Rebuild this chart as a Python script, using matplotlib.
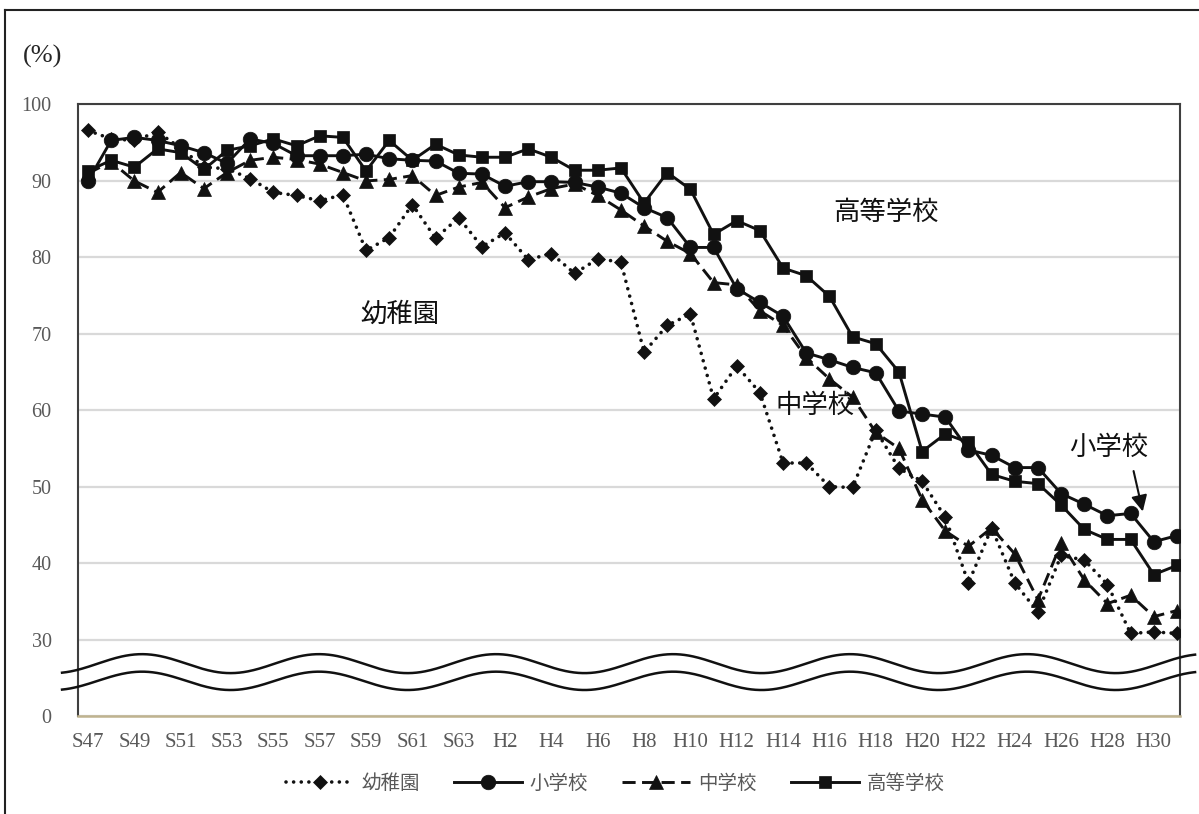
import numpy as np
import matplotlib
matplotlib.use("Agg")
import matplotlib.pyplot as plt
from matplotlib.lines import Line2D

# ---------------- data ----------------
categories = ["S47", "S48", "S49", "S50", "S51", "S52", "S53", "S54", "S55", "S56",
              "S57", "S58", "S59", "S60", "S61", "S62", "S63", "H1", "H2", "H3",
              "H4", "H5", "H6", "H7", "H8", "H9", "H10", "H11", "H12", "H13",
              "H14", "H15", "H16", "H17", "H18", "H19", "H20", "H21", "H22", "H23",
              "H24", "H25", "H26", "H27", "H28", "H29", "H30", "H31"]

kindergarten = [96.6, 95.5, 95.3, 96.4, 94.3, 91.8, 91.6, 90.3, 88.5, 88.1,
                87.4, 88.2, 80.9, 82.6, 86.9, 82.5, 85.2, 81.4, 83.2, 79.7,
                80.5, 77.9, 79.8, 79.4, 67.6, 71.1, 72.6, 61.5, 65.8, 62.3,
                53.1, 53.1, 50.0, 49.9, 57.4, 52.4, 50.7, 46.0, 37.4, 44.6,
                37.4, 33.6, 41.0, 40.4, 37.2, 30.8, 31.0, 30.8]

elementary = [90.0, 95.3, 95.7, 95.3, 94.6, 93.7, 92.3, 95.5, 94.9, 93.3,
              93.3, 93.3, 93.5, 92.9, 92.7, 92.6, 91.0, 90.9, 89.3, 89.9,
              89.9, 89.8, 89.2, 88.4, 86.5, 85.2, 81.3, 81.3, 75.9, 74.1,
              72.3, 67.5, 66.6, 65.6, 64.9, 59.9, 59.5, 59.1, 54.8, 54.1,
              52.5, 52.5, 49.1, 47.7, 46.2, 46.5, 42.8, 43.6]

junior_high = [91.0, 92.5, 90.0, 88.5, 91.1, 89.0, 91.1, 92.7, 93.1, 92.8,
               92.2, 91.1, 90.0, 90.2, 90.7, 88.1, 89.2, 89.8, 86.5, 87.9,
               89.0, 89.6, 88.1, 86.2, 84.1, 82.1, 80.5, 76.7, 76.4, 73.0,
               71.1, 66.9, 64.1, 61.7, 57.1, 55.0, 48.3, 44.2, 42.2, 44.6,
               41.2, 35.2, 42.6, 37.8, 34.7, 35.8, 33.0, 33.8]

high_school = [91.3, 92.7, 91.8, 94.2, 93.7, 91.5, 94.0, 94.6, 95.5, 94.6,
               95.9, 95.7, 91.3, 95.3, 92.7, 94.8, 93.4, 93.1, 93.1, 94.2,
               93.1, 91.4, 91.4, 91.7, 87.1, 91.1, 88.9, 83.0, 84.8, 83.5,
               78.6, 77.6, 74.9, 69.6, 68.7, 65.0, 54.6, 56.9, 55.8, 51.6,
               50.7, 50.4, 47.6, 44.4, 43.1, 43.1, 38.5, 39.7]

series_names = ["幼稚園", "小学校", "中学校", "高等学校"]

# y axis: broken axis, the bottom (20) is shown as "0"
ytick_values = [20, 30, 40, 50, 60, 70, 80, 90, 100]
ytick_labels = ["0", "30", "40", "50", "60", "70", "80", "90", "100"]

# ---------------- style ----------------
W, H = 1199, 814
fig = plt.figure(figsize=(W / 100, H / 100), dpi=100)
ax = fig.add_axes([78 / W, 1 - 716 / H, (1180 - 78) / W, (716 - 104.5) / H])

ink = "#111111"
tick_color = "#595959"
serif = ["Liberation Serif", "DejaVu Serif"]
cjk = ["Noto Sans CJK JP", "DejaVu Sans"]

x = np.arange(len(categories))

styles = [
    dict(linestyle=(0, (0.01, 2.1)), dash_capstyle="round", marker="D", ms=7.4, lw=2.6),
    dict(linestyle="-", marker="o", ms=10.5, lw=2.1),
    dict(linestyle=(0, (4.5, 2.2)), marker="^", ms=10, lw=2.1),
    dict(linestyle="-", marker="s", ms=9, lw=2.1),
]
data = [kindergarten, elementary, junior_high, high_school]

handles = []
for vals, st, name in zip(data, styles, series_names):
    kw = dict(color=ink, markerfacecolor=ink, markeredgecolor=ink,
              markeredgewidth=0.5, **st)
    ax.plot(x, vals, zorder=3, **kw)
    handles.append(Line2D([0], [0], label=name, **kw))

ax.set_xlim(-0.432, 47.13)
ax.set_ylim(20, 100)
ax.set_yticks(ytick_values)
ax.set_yticklabels(ytick_labels)
ax.set_xticks(x[::2])
ax.set_xticklabels(categories[::2])

ax.tick_params(axis="both", length=0, colors=tick_color)
ax.tick_params(axis="y", pad=19, labelsize=14.5)
ax.tick_params(axis="x", pad=12, labelsize=15)
for lab in ax.get_xticklabels() + ax.get_yticklabels():
    lab.set_fontfamily(serif)

ax.grid(axis="y", color="#d9d9d9", lw=1.6, zorder=0)
ax.set_axisbelow(True)
for s in ["top", "left", "right"]:
    ax.spines[s].set_color("#3f3f3f")
    ax.spines[s].set_linewidth(1.5)
ax.spines["bottom"].set_color("#bfb38f")
ax.spines["bottom"].set_linewidth(1.8)

# axis-break waves (decoration)
wx = np.linspace(-1.12, 47.78, 800)
phase = 2 * np.pi * (wx - 2.33) / 7.64
ax.plot(wx, 26.85 + 1.24 * np.cos(phase), color=ink, lw=1.8, clip_on=False, zorder=4)
ax.plot(wx, 24.6 + 1.2 * np.cos(phase), color=ink, lw=1.8, clip_on=False, zorder=4)

# series labels
lab_kw = dict(fontsize=19, color=ink, family=cjk, ha="center", va="center", zorder=5)
ax.text(34.44, 85.9, "高等学校", **lab_kw)
ax.text(13.47, 72.6, "幼稚園", **lab_kw)
ax.text(31.38, 60.7, "中学校", **lab_kw)
ax.text(44.07, 55.1, "小学校", **lab_kw)
ax.annotate("", xy=(45.55, 46.4), xytext=(45.1, 52.4),
            arrowprops=dict(arrowstyle="-|>", color=ink, lw=1.5, mutation_scale=24))

# unit label
fig.text(43 / W, 1 - 56 / H, "(%)", fontsize=19, family=serif, color="#262626",
         ha="center", va="center")

# legend
leg = fig.legend(handles=handles, loc="center", bbox_to_anchor=(615 / W, 1 - 783 / H),
                 ncol=4, frameon=False, handlelength=3.5, handletextpad=0.4,
                 columnspacing=1.75, numpoints=1, prop={"family": cjk, "size": 14})
for t in leg.get_texts():
    t.set_color(tick_color)

# outer frame
fig.add_artist(Line2D([5 / W, 1], [1 - 10 / H, 1 - 10 / H], transform=fig.transFigure,
                      color="#222222", lw=1.5))
fig.add_artist(Line2D([5 / W, 5 / W], [0, 1 - 10 / H], transform=fig.transFigure,
                      color="#222222", lw=1.5))

fig.savefig("out.png", dpi=100, facecolor="white")
